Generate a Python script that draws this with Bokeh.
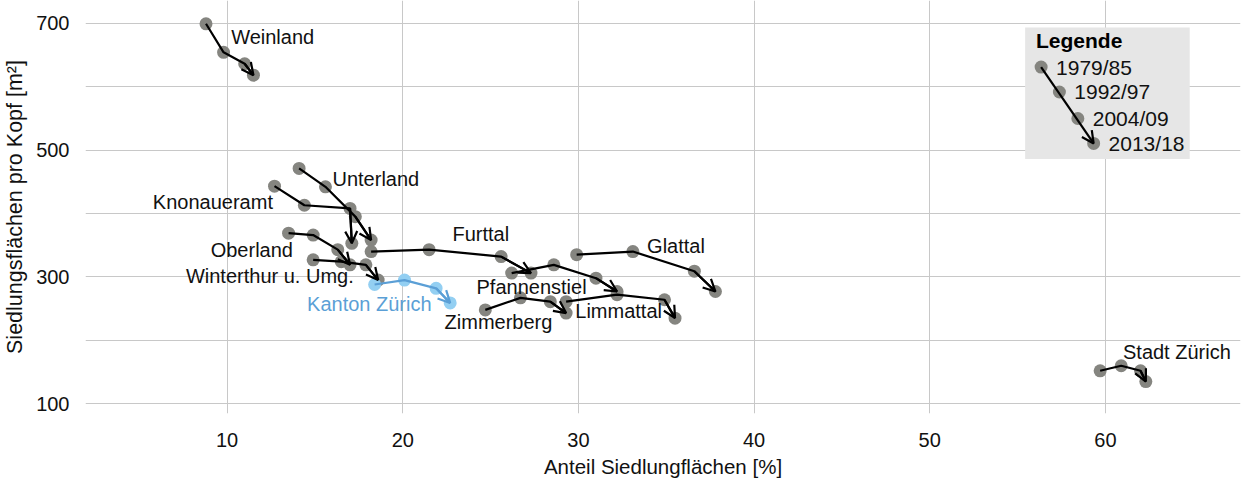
from bokeh.plotting import figure
from bokeh.models import ColumnDataSource, Arrow, OpenHead, FixedTicker, Range1d, BoxAnnotation
from bokeh.core.properties import value
from bokeh.embed import file_html
from bokeh.resources import INLINE

# ---------------- data ----------------
periods = ["1979/85", "1992/97", "2004/09", "2013/18"]

# Anteil Siedlungsflächen [%] / Siedlungsflächen pro Kopf [m2], per period
weinland_x = [8.8, 9.8, 11.0, 11.5]
weinland_y = [699, 654, 636, 618]
unterland_x = [14.1, 15.6, 17.3, 18.2]
unterland_y = [471, 442, 395, 358]
knonaueramt_x = [12.7, 14.4, 17.0, 17.1]
knonaueramt_y = [443, 413, 408, 353]
oberland_x = [13.5, 14.9, 16.3, 17.0]
oberland_y = [369, 366, 343, 319]
winterthur_x = [14.9, 16.5, 17.9, 18.6]
winterthur_y = [327, 324, 319, 295]
furttal_x = [18.2, 21.5, 25.6, 27.3]
furttal_y = [340, 343, 332, 306]
pfannenstiel_x = [26.2, 28.6, 31.0, 32.2]
pfannenstiel_y = [306, 319, 298, 277]
glattal_x = [29.9, 33.1, 36.6, 37.8]
glattal_y = [335, 340, 309, 277]
limmattal_x = [29.3, 32.2, 34.9, 35.5]
limmattal_y = [261, 272, 264, 235]
zimmerberg_x = [24.7, 26.7, 28.4, 29.3]
zimmerberg_y = [248, 267, 261, 243]
stadt_x = [59.7, 60.9, 62.0, 62.3]
stadt_y = [152, 160, 152, 135]
kanton_x = [18.4, 20.1, 21.9, 22.7]
kanton_y = [288, 295, 282, 259]

regions = ["Weinland", "Unterland", "Knonaueramt", "Oberland", "Winterthur u. Umg.",
           "Furttal", "Pfannenstiel", "Glattal", "Limmattal", "Zimmerberg", "Stadt Zürich"]
region_xs = [weinland_x, unterland_x, knonaueramt_x, oberland_x, winterthur_x,
             furttal_x, pfannenstiel_x, glattal_x, limmattal_x, zimmerberg_x, stadt_x]
region_ys = [weinland_y, unterland_y, knonaueramt_y, oberland_y, winterthur_y,
             furttal_y, pfannenstiel_y, glattal_y, limmattal_y, zimmerberg_y, stadt_y]

# label anchors (position, alignment) - layout only
label_pos = {
    "Weinland": (10.23, 677.5, "left"),
    "Unterland": (16.0, 454, "left"),
    "Knonaueramt": (12.61, 418, "right"),
    "Oberland": (13.75, 342.6, "right"),
    "Winterthur u. Umg.": (17.21, 301.7, "right"),
    "Furttal": (22.83, 367.8, "left"),
    "Pfannenstiel": (24.2, 284.4, "left"),
    "Glattal": (33.91, 348.9, "left"),
    "Limmattal": (29.82, 245.5, "left"),
    "Zimmerberg": (22.38, 228.2, "left"),
    "Stadt Zürich": (61.0, 182.2, "left"),
}
kanton_label_pos = (21.64, 257.7)

# legend sample path (drawn in plot space)
legend_x = [56.34, 57.38, 58.43, 59.33]
legend_y = [630.8, 591.5, 549.7, 510.4]

FONT = value("Liberation Sans")
GREY = "#858580"
BLUE_DOT = "#93cff2"
BLUE = "#5b9fd6"
TXT = "#111111"

p = figure(width=1247, height=480, output_backend="svg", toolbar_location=None,
           x_range=Range1d(1.94, 67.69), y_range=Range1d(84.7, 735.7),
           min_border_left=82, min_border_right=7, min_border_top=0, min_border_bottom=66)
p.outline_line_color = None
p.background_fill_color = "white"

# axes
for ax in (p.xaxis[0], p.yaxis[0]):
    ax.axis_line_color = None
    ax.major_tick_line_color = None
    ax.minor_tick_line_color = None
    ax.major_label_text_font = "Liberation Sans"
    ax.major_label_text_font_size = "20px"
    ax.major_label_text_color = TXT
    ax.axis_label_text_font = "Liberation Sans"
    ax.axis_label_text_font_style = "normal"
    ax.axis_label_text_color = TXT
p.xaxis.axis_label_text_font_size = "20.5px"
p.yaxis.axis_label_text_font_size = "21.5px"
p.xaxis.ticker = FixedTicker(ticks=[10, 20, 30, 40, 50, 60])
p.yaxis.ticker = FixedTicker(ticks=[100, 300, 500, 700], minor_ticks=[200, 400, 600])
p.xaxis.axis_label = "Anteil Siedlungflächen [%]"
p.yaxis.axis_label = "Siedlungsflächen pro Kopf [m²]"
p.xaxis.major_label_standoff = 13
p.xaxis.axis_label_standoff = 5
p.yaxis.major_label_standoff = 10
p.yaxis.axis_label_standoff = 6

p.xgrid.grid_line_color = "#c8c8c8"
p.ygrid.grid_line_color = "#c8c8c8"
p.ygrid.minor_grid_line_color = "#c8c8c8"

# legend box
p.add_layout(BoxAnnotation(left=55.43, right=64.8, bottom=485.7, top=693.2,
                           fill_color="#e6e6e6", fill_alpha=1, line_color=None, level="underlay"))

# region paths
p.scatter([x for xs in region_xs for x in xs], [y for ys in region_ys for y in ys],
          size=13, color=GREY, line_color=None)
p.multi_line(region_xs, region_ys, line_color="black", line_width=2.2)
arr_src = ColumnDataSource(dict(
    x0=[xs[-2] for xs in region_xs], y0=[ys[-2] for ys in region_ys],
    x1=[xs[-1] for xs in region_xs], y1=[ys[-1] for ys in region_ys]))
p.add_layout(Arrow(x_start="x0", y_start="y0", x_end="x1", y_end="y1", source=arr_src,
                   line_color="black", line_width=2.2,
                   end=OpenHead(size=12, line_color="black", line_width=2.2)))

# Kanton Zürich
p.scatter(kanton_x, kanton_y, size=13, color=BLUE_DOT, line_color=None)
p.line(kanton_x, kanton_y, line_color=BLUE, line_width=2.2)
p.add_layout(Arrow(x_start=kanton_x[-2], y_start=kanton_y[-2], x_end=kanton_x[-1], y_end=kanton_y[-1],
                   line_color=BLUE, line_width=2.2,
                   end=OpenHead(size=12, line_color=BLUE, line_width=2.2)))

# region labels
lab = ColumnDataSource(dict(
    x=[label_pos[r][0] for r in regions], y=[label_pos[r][1] for r in regions],
    t=regions, a=[label_pos[r][2] for r in regions]))
p.text(x="x", y="y", text="t", text_align="a", text_baseline="middle", source=lab,
       text_font=FONT, text_font_size="20px", text_color=TXT)
p.text(x=[kanton_label_pos[0]], y=[kanton_label_pos[1]], text=["Kanton Zürich"],
       text_align="right", text_baseline="middle",
       text_font=FONT, text_font_size="20px", text_color=BLUE)

# legend content
p.scatter(legend_x, legend_y, size=13, color=GREY, line_color=None)
p.add_layout(Arrow(x_start=legend_x[0], y_start=legend_y[0], x_end=legend_x[-1], y_end=legend_y[-1],
                   line_color="black", line_width=2.2,
                   end=OpenHead(size=12, line_color="black", line_width=2.2)))
p.text(x=[x + 0.85 for x in legend_x], y=legend_y, text=periods, text_align="left",
       text_baseline="middle", text_font=FONT, text_font_size="21px", text_color=TXT)
p.text(x=[56.05], y=[672.8], text=["Legende"], text_align="left", text_baseline="middle",
       text_font=FONT, text_font_size="21px", text_font_style="bold", text_color="black")

open("out.html", "w").write(file_html(p, INLINE))
